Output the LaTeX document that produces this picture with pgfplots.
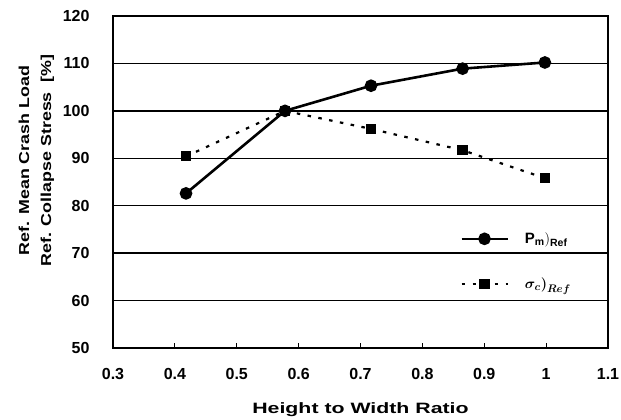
\documentclass[border=0pt]{standalone}
\usepackage{pgfplots}
\pgfplotsset{compat=1.18}
\usepackage{amsmath}
\usepackage{bm}
\usepackage{graphicx}
\usepackage{fontspec}
\setmainfont{Liberation Sans}
\begin{document}
\begin{tikzpicture}[x=1pt,y=1pt]
\begin{axis}[
  scale only axis,
  width=495pt, height=332pt,
  xmin=0.3, xmax=1.1, ymin=50, ymax=120,
  xtick={0.3,0.4,0.5,0.6,0.7,0.8,0.9,1.0,1.1},
  xticklabels={0.3,0.4,0.5,0.6,0.7,0.8,0.9,1,1.1},
  ytick={50,60,...,120},
  ymajorgrids,
  major grid style={black, line width=1.4pt},
  axis line style={black, line width=2.2pt},
  tick style={black, line width=1pt},
  major tick length=5pt,
  tick align=inside,
  xtick pos=bottom, ytick pos=left,
  /pgf/number format/assume math mode=true,
  tick label style={font=\fontsize{16}{16}\selectfont\bfseries},
  xticklabel style={yshift=-17pt},
  yticklabel shift=20pt,
  xlabel={\scalebox{1.42}[1]{Height to Width Ratio}},
  xlabel style={font=\fontsize{15}{15}\selectfont\bfseries, yshift=-16pt},
  ylabel={\scalebox{1.24}[1]{Ref. Mean Crash Load}\\\scalebox{1.24}[1]{Ref. Collapse Stress\ \ [\%]}},
  every axis y label/.append style={at={(axis description cs:-0.112,0.565)}, anchor=south},
  ylabel style={font=\fontsize{14.4}{22}\selectfont\bfseries, align=center},
  legend style={at={(0.695,0.36)}, anchor=north west, draw=none, fill=none,
    font=\fontsize{15}{15}\selectfont, row sep=29pt},
  legend cell align=left,
  legend image code/.code={
    \draw[#1] (0pt,0pt) -- (46pt,0pt);
    \draw[#1, solid] plot coordinates {(23pt,0pt)};
  },
]
\addplot[black, line width=2.6pt, mark=*, mark size=5pt, mark options={solid}]
  coordinates {(0.418,82.6) (0.578,100) (0.717,105.3) (0.865,108.9) (0.998,110.2)};
\addlegendentry{\hspace{14pt}$\mathbf{P_{m})_{Ref}}$}
\addplot[black, line width=2.2pt, dash pattern=on 3.5pt off 7.5pt, mark=square*, mark size=4pt, mark options={solid}]
  coordinates {(0.418,90.4) (0.578,100) (0.717,96.2) (0.865,91.7) (0.998,85.8)};
\addlegendentry{\hspace{14pt}$\bm{\sigma_{c})_{Ref}}$}
\end{axis}
\pgfresetboundingbox
\path[use as bounding box] (-113,-72) rectangle (508,348);
\end{tikzpicture}
\end{document}
